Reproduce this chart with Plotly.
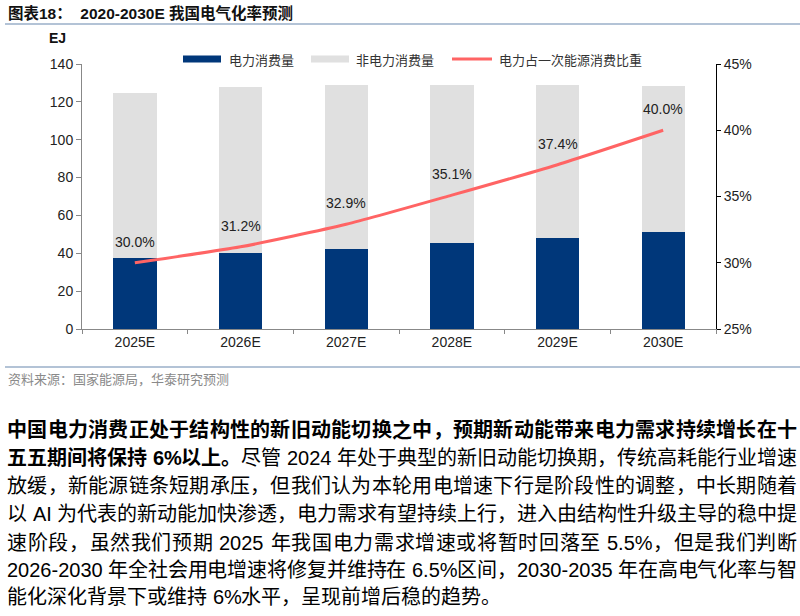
import plotly.graph_objects as go

# ---------------- data ----------------
categories = ["2025E", "2026E", "2027E", "2028E", "2029E", "2030E"]
electric = [37.3, 40.0, 42.3, 45.3, 48.1, 51.2]          # 电力消费量 (EJ)
non_electric = [87.5, 88.0, 86.8, 83.8, 81.0, 77.2]      # 非电力消费量 (EJ)
share = [30.0, 31.2, 32.9, 35.1, 37.4, 40.0]             # 电力占一次能源消费比重 (%)
y_ticks = [0, 20, 40, 60, 80, 100, 120, 140]
y2_ticks = [25, 30, 35, 40, 45]

title_text = "图表18：  2020-2030E 我国电气化率预测"
source_text = "资料来源：国家能源局，华泰研究预测"
legend_names = ["电力消费量", "非电力消费量", "电力占一次能源消费比重"]

paragraph = [
    [("中国电力消费正处于结构性的新旧动能切换之中，预期新动能带来电力需求持续增长在十", True)],
    [("五五期间将保持 6%以上。", True), ("尽管 2024 年处于典型的新旧动能切换期，传统高耗能行业增速", False)],
    [("放缓，新能源链条短期承压，但我们认为本轮用电增速下行是阶段性的调整，中长期随着", False)],
    [("以 AI 为代表的新动能加快渗透，电力需求有望持续上行，进入由结构性升级主导的稳中提", False)],
    [("速阶段，虽然我们预期 2025 年我国电力需求增速或将暂时回落至 5.5%，但是我们判断", False)],
    [("2026-2030 年全社会用电增速将修复并维持在 6.5%区间，2030-2035 年在高电气化率与智", False)],
    [("能化深化背景下或维持 6%水平，呈现前增后稳的趋势。", False)],
]

# ---------------- layout geometry (pixels) ----------------
W, H = 800, 616
L, R, T, B = 82, 716, 64, 329
def px(x):
    return (x - L) / (R - L)
def py(y):
    return (B - y) / (B - T)

BLUE = "#00377A"
GREY = "#E0E0E0"
RED = "#FF6464"
FONT = "Liberation Sans, Arial, Noto Sans CJK SC"

fig = go.Figure()
fig.add_bar(x=categories, y=electric, marker=dict(color=BLUE, line=dict(width=0)),
            name=legend_names[0], width=0.41)
fig.add_bar(x=categories, y=non_electric, marker=dict(color=GREY, line=dict(width=0)),
            name=legend_names[1], width=0.41)
fig.add_scatter(x=categories, y=[v / 100 for v in share], yaxis="y2", mode="lines",
                name=legend_names[2],
                line=dict(color=RED, width=3, shape="spline", smoothing=0.6))

annotations = []
# data labels
for c, v in zip(categories, share):
    annotations.append(dict(x=c, y=v / 100, xref="x", yref="y2", yshift=21,
                            text=f"{v:.1f}%", showarrow=False,
                            font=dict(family=FONT, size=14, color="#222")))

# title, unit, source
annotations.append(dict(x=px(6), y=py(13), xref="paper", yref="paper", xanchor="left",
                        yanchor="middle", text=f"<b>{title_text}</b>", showarrow=False,
                        font=dict(family=FONT, size=15.5, color="#111")))
annotations.append(dict(x=px(57), y=py(38), xref="paper", yref="paper", xanchor="center",
                        yanchor="middle", text="<b>EJ</b>", showarrow=False,
                        font=dict(family=FONT, size=14, color="#111")))
annotations.append(dict(x=px(6), y=py(379), xref="paper", yref="paper", xanchor="left",
                        yanchor="middle", text=source_text, showarrow=False,
                        font=dict(family=FONT, size=13, color="#8a8a8a")))

shapes = []
# divider lines
for yy in (24, 367):
    shapes.append(dict(type="line", xref="paper", yref="paper", x0=px(5), x1=px(800),
                       y0=py(yy), y1=py(yy), line=dict(color="#9AAFC8", width=1.5)))

# custom legend
LEG_Y = 59
leg_items = [
    (183, 221, 227, legend_names[0], "rect", BLUE),
    (311, 349, 354, legend_names[1], "rect", GREY),
    (452, 492, 497, legend_names[2], "line", RED),
]
for x0, x1, tx, name, kind, col in leg_items:
    if kind == "rect":
        shapes.append(dict(type="rect", xref="paper", yref="paper", x0=px(x0), x1=px(x1),
                           y0=py(LEG_Y + 3.5), y1=py(LEG_Y - 3.5), fillcolor=col,
                           line=dict(width=0)))
    else:
        shapes.append(dict(type="line", xref="paper", yref="paper", x0=px(x0), x1=px(x1),
                           y0=py(LEG_Y), y1=py(LEG_Y), line=dict(color=col, width=3)))
    annotations.append(dict(x=px(tx), y=py(LEG_Y), xref="paper", yref="paper",
                            xanchor="left", yanchor="middle", text=name, showarrow=False,
                            font=dict(family="Noto Sans CJK SC", size=13, color="#333")))

# paragraph, justified token by token
FS = 20
PX0, PX1 = 5, 795
LINE_Y = [430, 458, 486, 514, 543, 570, 597]
LATIN_W = {"0": .556, "1": .556, "2": .556, "3": .556, "4": .556, "5": .556, "6": .556,
           "7": .556, "8": .556, "9": .556, "%": .889, ".": .278, "-": .333, "A": .667,
           "I": .278, " ": .278}

def tokens_of(line):
    toks = []
    for seg, bold in line:
        buf = ""
        for ch in seg:
            if ord(ch) > 0x2E80:
                if buf:
                    toks.append((buf, bold))
                    buf = ""
                toks.append((ch, bold))
            elif ch == " ":
                if buf:
                    toks.append((buf, bold))
                    buf = ""
                toks.append((" ", bold))
            else:
                buf += ch
        if buf:
            toks.append((buf, bold))
    return toks

def tok_w(t):
    if ord(t[0]) > 0x2E80:
        return FS
    return sum(LATIN_W.get(ch, .556) for ch in t) * FS

for i, line in enumerate(paragraph):
    toks = tokens_of(line)
    widths = [tok_w(t) for t, _ in toks]
    justify = i < len(paragraph) - 1
    natural = sum(widths)
    gap = (PX1 - PX0 - natural) / (len(toks) - 1) if justify and len(toks) > 1 else 0
    x = PX0
    for (t, bold), w in zip(toks, widths):
        if t != " ":
            annotations.append(dict(x=px(x), y=py(LINE_Y[i]), xref="paper", yref="paper",
                                    xanchor="left", yanchor="middle",
                                    text=f"<b>{t}</b>" if bold else t, showarrow=False,
                                    font=dict(family=FONT, size=FS, color="#000")))
        x += w + gap

fig.update_layout(
    width=W, height=H,
    margin=dict(l=L, r=W - R, t=T, b=H - B, pad=0),
    paper_bgcolor="white", plot_bgcolor="white",
    barmode="stack", bargap=0.59, showlegend=False,
    font=dict(family=FONT, size=14, color="#222"),
    xaxis=dict(type="category", showline=True, linecolor="#888", linewidth=1,
               ticks="outside", tickson="boundaries", ticklen=4, tickcolor="#888",
               tickfont=dict(size=14, color="#222"), showgrid=False, zeroline=False),
    yaxis=dict(range=[0, 140], tickvals=y_ticks, showline=True, linecolor="#888",
               linewidth=1, ticks="outside", ticklen=5, tickcolor="#888",
               tickfont=dict(size=14, color="#222"), showgrid=False, zeroline=False),
    yaxis2=dict(overlaying="y", side="right", range=[0.25, 0.45],
                tickvals=[v / 100 for v in y2_ticks], tickformat=".0%",
                showline=True, linecolor="#000", linewidth=1, ticks="outside",
                ticklen=4, tickcolor="#000", tickfont=dict(size=14, color="#222"),
                showgrid=False, zeroline=False),
    annotations=annotations, shapes=shapes,
)

fig.write_html("out.html")
